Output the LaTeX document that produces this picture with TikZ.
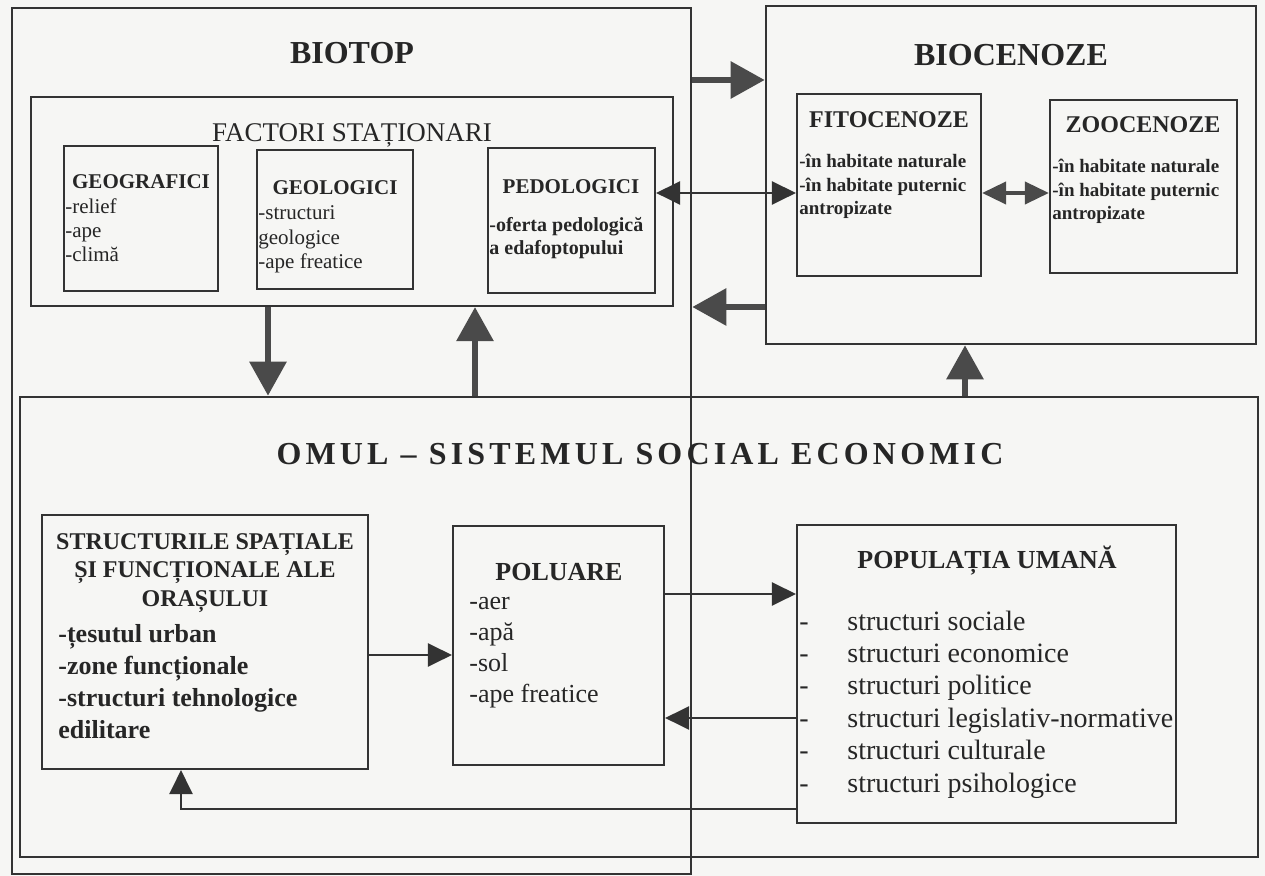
\documentclass[tikz,border=0pt]{standalone}
\usepackage{fontspec}
\setmainfont{Liberation Serif}
\newfontfamily\spacedfont{Liberation Serif}[LetterSpace=13]
\usetikzlibrary{arrows.meta,fit}

\definecolor{ink}{HTML}{262626}
\definecolor{frame}{HTML}{333333}
\definecolor{arrowfill}{HTML}{4A4A4A}
\definecolor{paper}{HTML}{F6F6F4}

\tikzset{
  box/.style={draw=frame, line width=1.1pt, inner sep=0pt},
  bigbox/.style={box, line width=1.3pt},
  head/.style={text=ink, anchor=base, inner sep=0pt, font=\bfseries\fontsize{#1}{#1}\selectfont},
  plainhead/.style={text=ink, anchor=base, inner sep=0pt, font=\fontsize{#1}{#1}\selectfont},
  items/.style 2 args={text=ink, anchor=north west, inner sep=0pt, align=left,
    font=\fontsize{#1}{#2}\selectfont},
  bolditems/.style 2 args={items={#1}{#2}, font=\bfseries\fontsize{#1}{#2}\selectfont},
  bigarrow/.style={draw=arrowfill, line width=3pt, -{Triangle[length=17pt,width=18pt]}},
  midarrow/.style={draw=arrowfill, line width=2pt,
    {Triangle[length=12pt,width=11pt]}-{Triangle[length=12pt,width=11pt]}},
  thinarrow/.style={draw=frame, line width=1.4pt, -{Triangle[length=12pt,width=11.5pt]}},
  thinboth/.style={thinarrow, {Triangle[length=12pt,width=11.5pt]}-{Triangle[length=12pt,width=11.5pt]}}
}

\begin{document}
\begin{tikzpicture}[x=0.5pt, y=-0.5pt]
\useasboundingbox (0,0) rectangle (1265,876);
\fill[paper] (0,0) rectangle (1265,876);

% outer systems
\node[bigbox, fit={(12,8)(691,874)}] (biotop) {};
\node[bigbox, fit={(766,6)(1256,344)}] (biocen) {};
\node[bigbox, fit={(20,397)(1258,857)}] (omul) {};
\node[head=16] (biotoptitle) at (352,64) {BIOTOP};
\node[head=16] (biocentitle) at (1011,66) {BIOCENOZE};
\node[head=16, font=\spacedfont\bfseries\fontsize{16}{19}\selectfont] (omultitle) at (640,465)
  {OMUL – SISTEMUL SOCIAL ECONOMIC};

% biotop: factori stationari
\node[box, fit={(31,97)(673,306)}] (factori) {};
\node[plainhead=13.5] (factorititle) at (352,142) {FACTORI STAȚIONARI};
\node[box, fit={(64,146)(218,291)}] (geo) {};
\node[head=10.5] (geotitle) at (141,189) {GEOGRAFICI};
\node[items={10.5}{12}] (geolist) at (65,196) {\strut-relief\\-ape\\-climă};
\node[box, fit={(257,150)(413,289)}] (geol) {};
\node[head=10.5] (geoltitle) at (335,195) {GEOLOGICI};
\node[items={10.5}{12.25}] (geollist) at (258,202) {\strut-structuri\\geologice\\-ape freatice};
\node[box, fit={(488,148)(655,293)}] (pedo) {};
\node[head=10.5] (pedotitle) at (571,194) {PEDOLOGICI};
\node[bolditems={10}{11.5}] (pedolist) at (489,215) {\strut-oferta pedologică\\a edafoptopului};

% biocenoze
\node[box, fit={(797,94)(981,276)}] (fito) {};
\node[head=12] (fitotitle) at (889,128) {FITOCENOZE};
\node[bolditems={9.5}{11.75}] (fitolist) at (799,151)
  {\strut-în habitate naturale\\-în habitate puternic\\antropizate};
\node[box, fit={(1050,100)(1237,273)}] (zoo) {};
\node[head=12] (zootitle) at (1143,133) {ZOOCENOZE};
\node[bolditems={9.5}{11.75}] (zoolist) at (1052,156)
  {\strut-în habitate naturale\\-în habitate puternic\\antropizate};

% omul - sistemul social economic
\node[box, fit={(42,515)(368,769)}] (struct) {};
\node[head=12, anchor=north, align=center, font=\bfseries\fontsize{12}{14.25}\selectfont]
  (structtitle) at (205,529)
  {\strut STRUCTURILE SPAȚIALE\\ȘI FUNCȚIONALE ALE\\ORAȘULUI};
\node[bolditems={13}{16}] (structlist) at (58,620)
  {\strut-țesutul urban\\-zone funcționale\\-structuri tehnologice\\edilitare};
\node[box, fit={(453,526)(664,765)}] (poluare) {};
\node[head=13] (poluaretitle) at (559,581) {POLUARE};
\node[items={13}{15.6}] (poluarelist) at (469,587) {\strut-aer\\-apă\\-sol\\-ape freatice};
\node[box, fit={(797,525)(1176,823)}] (popul) {};
\node[head=13] (popultitle) at (987,569) {POPULAȚIA UMANĂ};
\node[items={14}{16.2}] (popullist) at (799,607)
  {\strut\makebox[24pt][l]{-}structuri sociale\\
   \makebox[24pt][l]{-}structuri economice\\
   \makebox[24pt][l]{-}structuri politice\\
   \makebox[24pt][l]{-}structuri legislativ-normative\\
   \makebox[24pt][l]{-}structuri culturale\\
   \makebox[24pt][l]{-}structuri psihologice};

% rows and columns of the connectors
\coordinate (rowA) at (0,80);
\coordinate (rowB) at (0,307);
\coordinate (rowC) at (0,193);
\coordinate (rowD) at (0,655);
\coordinate (rowE) at (0,594);
\coordinate (rowF) at (0,718);
\coordinate (rowG) at (0,809);
\coordinate (colA) at (268,0);
\coordinate (colB) at (475,0);
\coordinate (colC) at (965,0);
\coordinate (colD) at (181,0);

\draw[bigarrow] (biotop.east |- rowA) -- (biocen.west |- rowA);
\draw[bigarrow] (biocen.west |- rowB) -- (biotop.east |- rowB);
\draw[thinboth] (pedo.east |- rowC) -- (fito.west |- rowC);
\draw[midarrow] (fito.east |- rowC) -- (zoo.west |- rowC);
\draw[bigarrow] (colA |- factori.south) -- (colA |- omul.north);
\draw[bigarrow] (colB |- omul.north) -- (colB |- factori.south);
\draw[bigarrow] (colC |- omul.north) -- (colC |- biocen.south);
\draw[thinarrow] (struct.east |- rowD) -- (poluare.west |- rowD);
\draw[thinarrow] (poluare.east |- rowE) -- (popul.west |- rowE);
\draw[thinarrow] (popul.west |- rowF) -- (poluare.east |- rowF);
\draw[thinarrow] (popul.west |- rowG) -| (colD |- struct.south);
\end{tikzpicture}
\end{document}
